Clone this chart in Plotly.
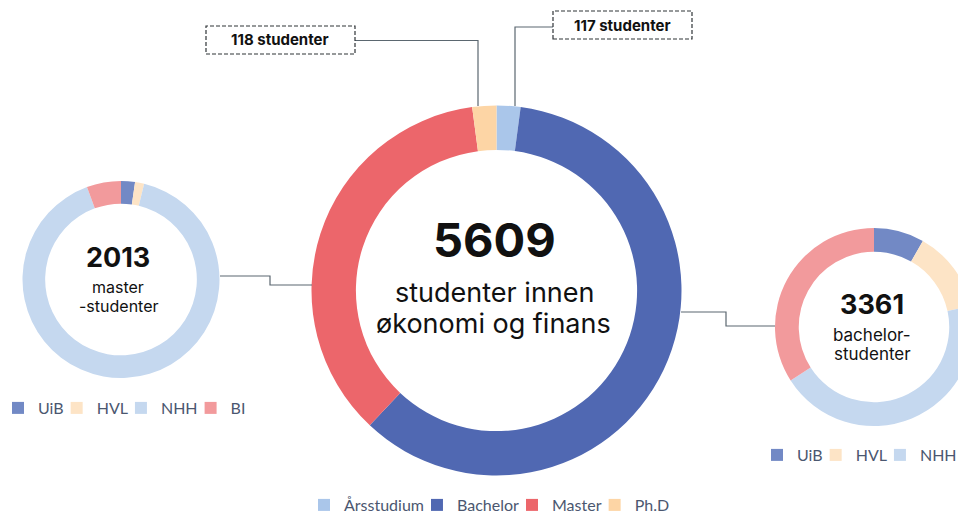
import plotly.graph_objects as go

# ---------------- data ----------------
main_labels = ["Årsstudium", "Bachelor", "Master", "Ph.D"]
main_values = [117, 3361, 2013, 118]
main_total = 5609

inst_labels = ["UiB", "HVL", "NHH", "BI"]
master_values = [46, 30, 1824, 113]
master_total = 2013
bachelor_values = [276, 450, 1490, 1145]
bachelor_total = 3361

callout_phd = "118 studenter"
callout_ars = "117 studenter"

# ---------------- styling ----------------
main_colors = ["#AAC6EA", "#5068B2", "#EC666B", "#FDD5A5"]
inst_colors = ["#7289C5", "#FDE4C6", "#C5D8EF", "#F29A9C"]

W, H = 980, 514
TXT = "Inter"
LEG = "Lato"


def px(x):
    return x / W


def py(y):
    return 1 - y / H


def dom(cx, cy, r):
    return dict(x=[px(cx - r), px(cx + r)], y=[py(cy + r), py(cy - r)])


fig = go.Figure()

fig.add_trace(go.Pie(
    labels=main_labels, values=main_values, hole=0.76, sort=False,
    direction="clockwise", rotation=0, textinfo="none",
    marker=dict(colors=main_colors, line=dict(width=0)),
    domain=dom(496.5, 290.5, 185), legend="legend", legendgroup="main",
))
fig.add_trace(go.Pie(
    labels=inst_labels, values=master_values, hole=0.77, sort=False,
    direction="clockwise", rotation=0, textinfo="none",
    marker=dict(colors=inst_colors, line=dict(width=0)),
    domain=dom(121, 279.5, 98.5), legend="legend2", legendgroup="master",
))
fig.add_trace(go.Pie(
    labels=inst_labels, values=bachelor_values, hole=0.76, sort=False,
    direction="clockwise", rotation=0, textinfo="none",
    marker=dict(colors=inst_colors, line=dict(width=0)),
    domain=dom(874, 327, 99), legend="legend3", legendgroup="bachelor",
))

line_c = "#5B6770"
shapes = []


def seg(points):
    path = "M " + " L ".join(f"{px(x)},{py(y)}" for x, y in points)
    shapes.append(dict(type="path", path=path, xref="paper", yref="paper",
                       line=dict(color=line_c, width=1.2)))


seg([(220, 276), (270, 276), (270, 285), (312, 285)])
seg([(681, 312), (726, 312), (726, 326), (775, 326)])
seg([(355, 40.5), (478, 40.5), (478, 106)])
seg([(553, 27), (515, 27), (515, 106)])

for x0, y0, x1, y1 in [(206, 26, 355, 54), (553, 11, 692, 39)]:
    shapes.append(dict(type="rect", xref="paper", yref="paper",
                       x0=px(x0), x1=px(x1), y0=py(y1), y1=py(y0),
                       line=dict(color="#2f3437", width=1.2, dash="4px,2px"),
                       fillcolor="white"))

ann = []


def text(x, y, s, size, bold=False):
    ann.append(dict(x=px(x), y=py(y), xref="paper", yref="paper",
                    text=f"<b>{s}</b>" if bold else s, showarrow=False,
                    font=dict(family=TXT, size=size, color="#111111"),
                    xanchor="center", yanchor="middle"))


text(495, 239, f"{main_total}", 47, True)
text(495, 292, "studenter innen", 27)
text(493, 323, "økonomi og finans", 27)
text(118, 257, f"{master_total}", 27, True)
text(118, 287, "master", 16)
text(119, 306, "-studenter", 16)
text(872, 304, f"{bachelor_total}", 27, True)
text(872, 335, "bachelor-", 17)
text(872, 354, "studenter", 17)
text(280, 40, callout_phd, 15, True)
text(622, 25, callout_ars, 15, True)

leg_font = dict(family=LEG, size=16, color="#4B5770")
leg_common = dict(orientation="h", traceorder="normal", font=leg_font,
                  bgcolor="rgba(0,0,0,0)", yanchor="middle", xanchor="left",
                  indentation=-12)
fig.update_layout(
    width=W, height=H, autosize=False,
    margin=dict(l=0, r=0, t=0, b=0, autoexpand=False),
    paper_bgcolor="white", plot_bgcolor="white",
    shapes=shapes, annotations=ann,
    showlegend=True,
    legend=dict(x=px(316), y=py(505), **leg_common),
    legend2=dict(x=px(10), y=py(408), **leg_common),
    legend3=dict(x=px(769), y=py(455), **leg_common),
)

fig.write_html("out.html", config={"displayModeBar": False},
               post_script="document.body.style.margin='0';document.body.style.overflow='hidden';")
